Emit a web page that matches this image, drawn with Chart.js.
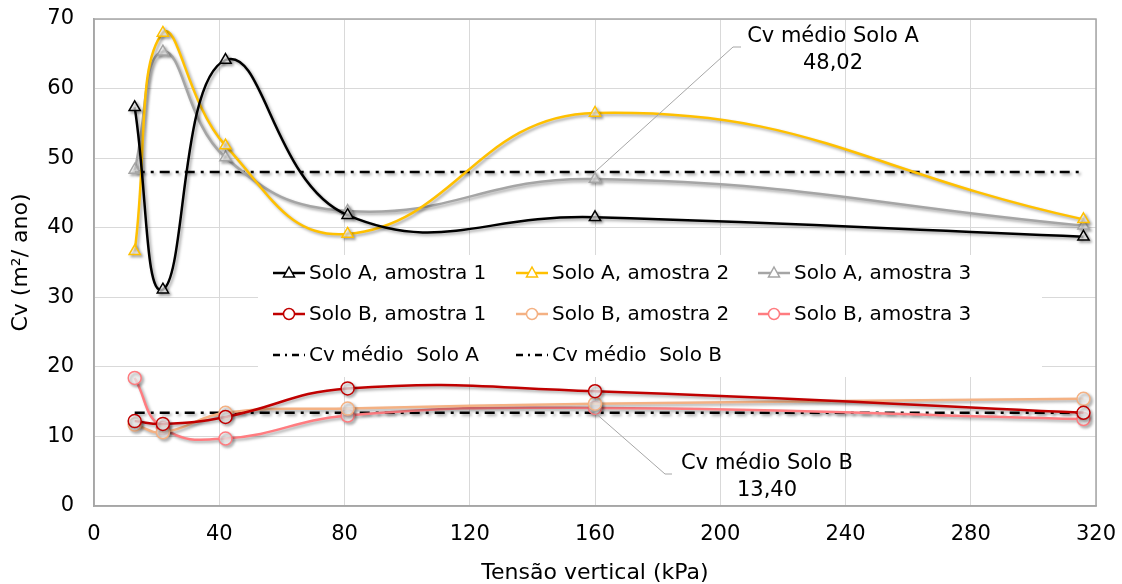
<!DOCTYPE html>
<html>
<head>
<meta charset="utf-8">
<script src="https://cdn.jsdelivr.net/npm/chart.js@4.4.1/dist/chart.umd.min.js"></script>
<style>
  html, body { margin: 0; padding: 0; background: #fff; }
  #wrap { width: 1122px; height: 584px; }
</style>
</head>
<body>
<div id="wrap"><canvas id="cvChart" width="1122" height="584"></canvas></div>
<script>
// valores
const tensao = [13, 22, 42, 81, 160, 316];
const soloA1 = [57.3, 31.1, 64.1, 41.8, 41.5, 38.7];
const soloA2 = [36.6, 68.0, 51.8, 39.1, 56.5, 41.2];
const soloA3 = [48.3, 65.3, 50.1, 42.4, 47.0, 40.3];
const soloB1 = [12.2, 11.8, 12.8, 16.9, 16.5, 13.4];
const soloB2 = [11.7, 10.6, 13.4, 14.0, 14.7, 15.4];
const soloB3 = [18.4, 11.2, 9.7, 13.0, 14.1, 12.5];
const cvMedioA = 48.02;
const cvMedioB = 13.40;
const rotulosMedia = ['Cv médio Solo A', '48,02', 'Cv médio Solo B', '13,40'];

const FONTE = '"DejaVu Sans", Verdana, sans-serif';

function pontos(valores) {
  return tensao.map((x, i) => ({ x: x, y: valores[i] }));
}
function linhaMedia(v) {
  return [{ x: tensao[0], y: v }, { x: tensao[tensao.length - 1], y: v }];
}
function serie(label, valores, cor, estilo) {
  return {
    label: label,
    data: pontos(valores),
    borderColor: cor,
    backgroundColor: '#fff',
    borderWidth: 2.5,
    tension: 0.45,
    pointStyle: estilo,
    pointRadius: 6.5,
    pointBorderWidth: 1.5,
    pointBorderColor: cor,
    pointBackgroundColor: 'rgba(255,255,255,0.7)'
  };
}
function media(label, v) {
  return {
    label: label,
    data: linhaMedia(v),
    borderColor: '#000',
    borderWidth: 2.5,
    borderDash: [10, 6, 3, 6],
    pointRadius: 0,
    tension: 0,
    media: true
  };
}

// sombra nas linhas, como no Excel
const sombra = {
  id: 'sombra',
  beforeDatasetDraw(chart) {
    const c = chart.ctx;
    c.save();
    c.shadowColor = 'rgba(0,0,0,0.35)';
    c.shadowBlur = 3;
    c.shadowOffsetX = 2;
    c.shadowOffsetY = 2;
  },
  afterDatasetDraw(chart) {
    chart.ctx.restore();
  }
};

// textos "Cv médio" com linha de chamada
const chamadas = {
  id: 'chamadas',
  afterDatasetsDraw(chart) {
    const c = chart.ctx, xs = chart.scales.x, ys = chart.scales.y;
    c.save();
    c.strokeStyle = '#a6a6a6';
    c.lineWidth = 1;
    c.beginPath();
    c.moveTo(xs.getPixelForValue(160), ys.getPixelForValue(cvMedioA));
    c.lineTo(733, 47);
    c.lineTo(741, 47);
    c.moveTo(xs.getPixelForValue(160), ys.getPixelForValue(cvMedioB));
    c.lineTo(665, 474);
    c.lineTo(672, 474);
    c.stroke();
    c.fillStyle = '#000';
    c.font = '21px ' + FONTE;
    c.textAlign = 'center';
    c.textBaseline = 'middle';
    c.fillText(rotulosMedia[0], 833, 37);
    c.fillText(rotulosMedia[1], 833, 64);
    c.fillText(rotulosMedia[2], 767, 464);
    c.fillText(rotulosMedia[3], 767, 491);
    c.restore();
  }
};

// legenda dentro da área do gráfico
const legenda = {
  id: 'legenda',
  afterDatasetsDraw(chart) {
    const c = chart.ctx;
    const colX = [273, 516, 758];
    const linY = [273, 314, 355];
    c.save();
    c.fillStyle = '#fff';
    c.fillRect(258, 255, 784, 122);
    c.font = '20px ' + FONTE;
    c.textBaseline = 'middle';
    chart.data.datasets.forEach((ds, i) => {
      const x0 = colX[i % 3], y = linY[Math.floor(i / 3)];
      c.strokeStyle = ds.borderColor;
      c.lineWidth = 2.5;
      if (ds.media) {
        c.setLineDash([7, 5, 2, 5]);
      } else {
        c.setLineDash([]);
      }
      c.beginPath();
      c.moveTo(x0, y);
      c.lineTo(x0 + 32, y);
      c.stroke();
      c.setLineDash([]);
      if (!ds.media) {
        const cx = x0 + 16;
        c.lineWidth = 1.5;
        c.fillStyle = '#fff';
        c.beginPath();
        if (ds.pointStyle === 'triangle') {
          c.moveTo(cx, y - 6);
          c.lineTo(cx + 5.5, y + 4);
          c.lineTo(cx - 5.5, y + 4);
          c.closePath();
        } else {
          c.arc(cx, y, 5.5, 0, Math.PI * 2);
        }
        c.fill();
        c.stroke();
      }
      c.fillStyle = '#000';
      c.fillText(ds.label, x0 + 36, y + 1);
    });
    c.restore();
  }
};

const ctx = document.getElementById('cvChart').getContext('2d');
new Chart(ctx, {
  type: 'line',
  data: {
    datasets: [
      serie('Solo A, amostra 1', soloA1, '#000000', 'triangle'),
      serie('Solo A, amostra 2', soloA2, '#FFC000', 'triangle'),
      serie('Solo A, amostra 3', soloA3, '#A5A5A5', 'triangle'),
      serie('Solo B, amostra 1', soloB1, '#C00000', 'circle'),
      serie('Solo B, amostra 2', soloB2, '#F4B183', 'circle'),
      serie('Solo B, amostra 3', soloB3, '#FF7C80', 'circle'),
      media('Cv médio  Solo A', cvMedioA),
      media('Cv médio  Solo B', cvMedioB)
    ]
  },
  options: {
    responsive: false,
    animation: false,
    layout: { padding: { top: 19, right: 26, left: 0, bottom: 0 } },
    plugins: {
      legend: { display: false },
      tooltip: { enabled: false }
    },
    scales: {
      x: {
        type: 'linear',
        min: 0,
        max: 320,
        ticks: { stepSize: 40, color: '#000', font: { family: FONTE, size: 21 }, padding: 16 },
        grid: { color: '#d9d9d9', drawTicks: false },
        border: { color: '#a6a6a6', width: 1.5 },
        title: { display: true, text: 'Tensão vertical (kPa)', color: '#000', font: { family: FONTE, size: 22, lineHeight: 1 }, padding: { top: 0, bottom: 0 } },
        afterFit(s) {
          s.height = 78;
          s.paddingLeft = 0;
          s.paddingRight = 0;
        }
      },
      y: {
        min: 0,
        max: 70,
        ticks: { stepSize: 10, color: '#000', font: { family: FONTE, size: 21 }, padding: 20 },
        grid: { color: '#d9d9d9', drawTicks: false },
        border: { color: '#a6a6a6', width: 1.5 },
        title: { display: true, text: 'Cv (m²/ ano)', color: '#000', font: { family: FONTE, size: 22 }, padding: { top: 8, bottom: 0 } },
        afterFit(s) {
          s.width = 94;
          s.paddingTop = 0;
          s.paddingBottom = 0;
        }
      }
    }
  },
  plugins: [sombra, chamadas, legenda, {
    id: 'moldura',
    afterDraw(chart) {
      const a = chart.chartArea, c = chart.ctx;
      c.save();
      c.strokeStyle = '#a6a6a6';
      c.lineWidth = 1.5;
      c.strokeRect(a.left, a.top, a.right - a.left, a.bottom - a.top);
      c.restore();
    }
  }]
});
</script>
</body>
</html>
